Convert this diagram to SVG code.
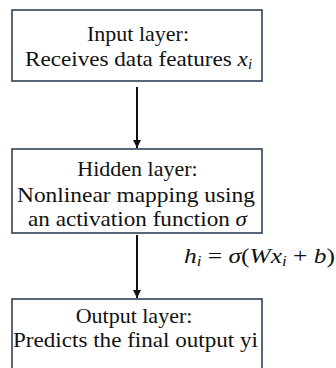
<svg xmlns="http://www.w3.org/2000/svg" width="336" height="368" viewBox="0 0 336 368">
  <style>
    .box { fill: #ffffff; stroke: #2f4255; stroke-width: 1.6; }
    .lbl { font-family: "Liberation Serif", "DejaVu Serif", serif; font-size: 22px; fill: #111111; text-anchor: middle; }
    .eq { font-family: "Liberation Serif", "DejaVu Serif", serif; font-size: 21px; fill: #111111; }
    .it { font-style: italic; }
    .sub { font-size: 14px; font-style: italic; }
    .edge { stroke: #111111; stroke-width: 2; fill: none; marker-end: url(#head); }
  </style>
  <defs>
    <marker id="head" viewBox="0 0 8 10" refX="8" refY="5" markerWidth="8" markerHeight="10" markerUnits="userSpaceOnUse" orient="auto">
      <path d="M0,1 L8,5 L0,9 Z" fill="#111111"/>
    </marker>
  </defs>
  <rect width="336" height="368" fill="#ffffff"/>

  <g id="connectors">
    <line class="edge" x1="137" y1="87" x2="137" y2="148"/>
    <line class="edge" x1="137" y1="235" x2="137" y2="298"/>
    <text class="eq" x="184" y="263" textLength="151" lengthAdjust="spacingAndGlyphs"><tspan class="it">h</tspan><tspan class="sub" dy="3">i</tspan><tspan dy="-3"> = </tspan><tspan class="it">σ</tspan><tspan>(</tspan><tspan class="it">Wx</tspan><tspan class="sub" dy="3">i</tspan><tspan dy="-3"> + </tspan><tspan class="it">b</tspan><tspan>)</tspan></text>
  </g>

  <g id="input-layer">
    <rect class="box" x="12" y="10" width="250" height="71"/>
    <text class="lbl" x="138" y="41">Input layer:</text>
    <text class="lbl" x="138.5" y="66" textLength="227" lengthAdjust="spacingAndGlyphs">Receives data features <tspan class="it">x</tspan><tspan class="sub" dy="3">i</tspan></text>
  </g>

  <g id="hidden-layer">
    <rect class="box" x="12" y="149" width="250" height="84"/>
    <text class="lbl" x="137.5" y="176">Hidden layer:</text>
    <text class="lbl" x="136" y="202" textLength="238" lengthAdjust="spacingAndGlyphs">Nonlinear mapping using</text>
    <text class="lbl" x="137.5" y="226" textLength="219" lengthAdjust="spacingAndGlyphs">an activation function <tspan class="it">σ</tspan></text>
  </g>

  <g id="output-layer">
    <rect class="box" x="12" y="299" width="250" height="80"/>
    <text class="lbl" x="134" y="323">Output layer:</text>
    <text class="lbl" x="135.5" y="347" textLength="245" lengthAdjust="spacingAndGlyphs">Predicts the final output yi</text>
  </g>
</svg>
